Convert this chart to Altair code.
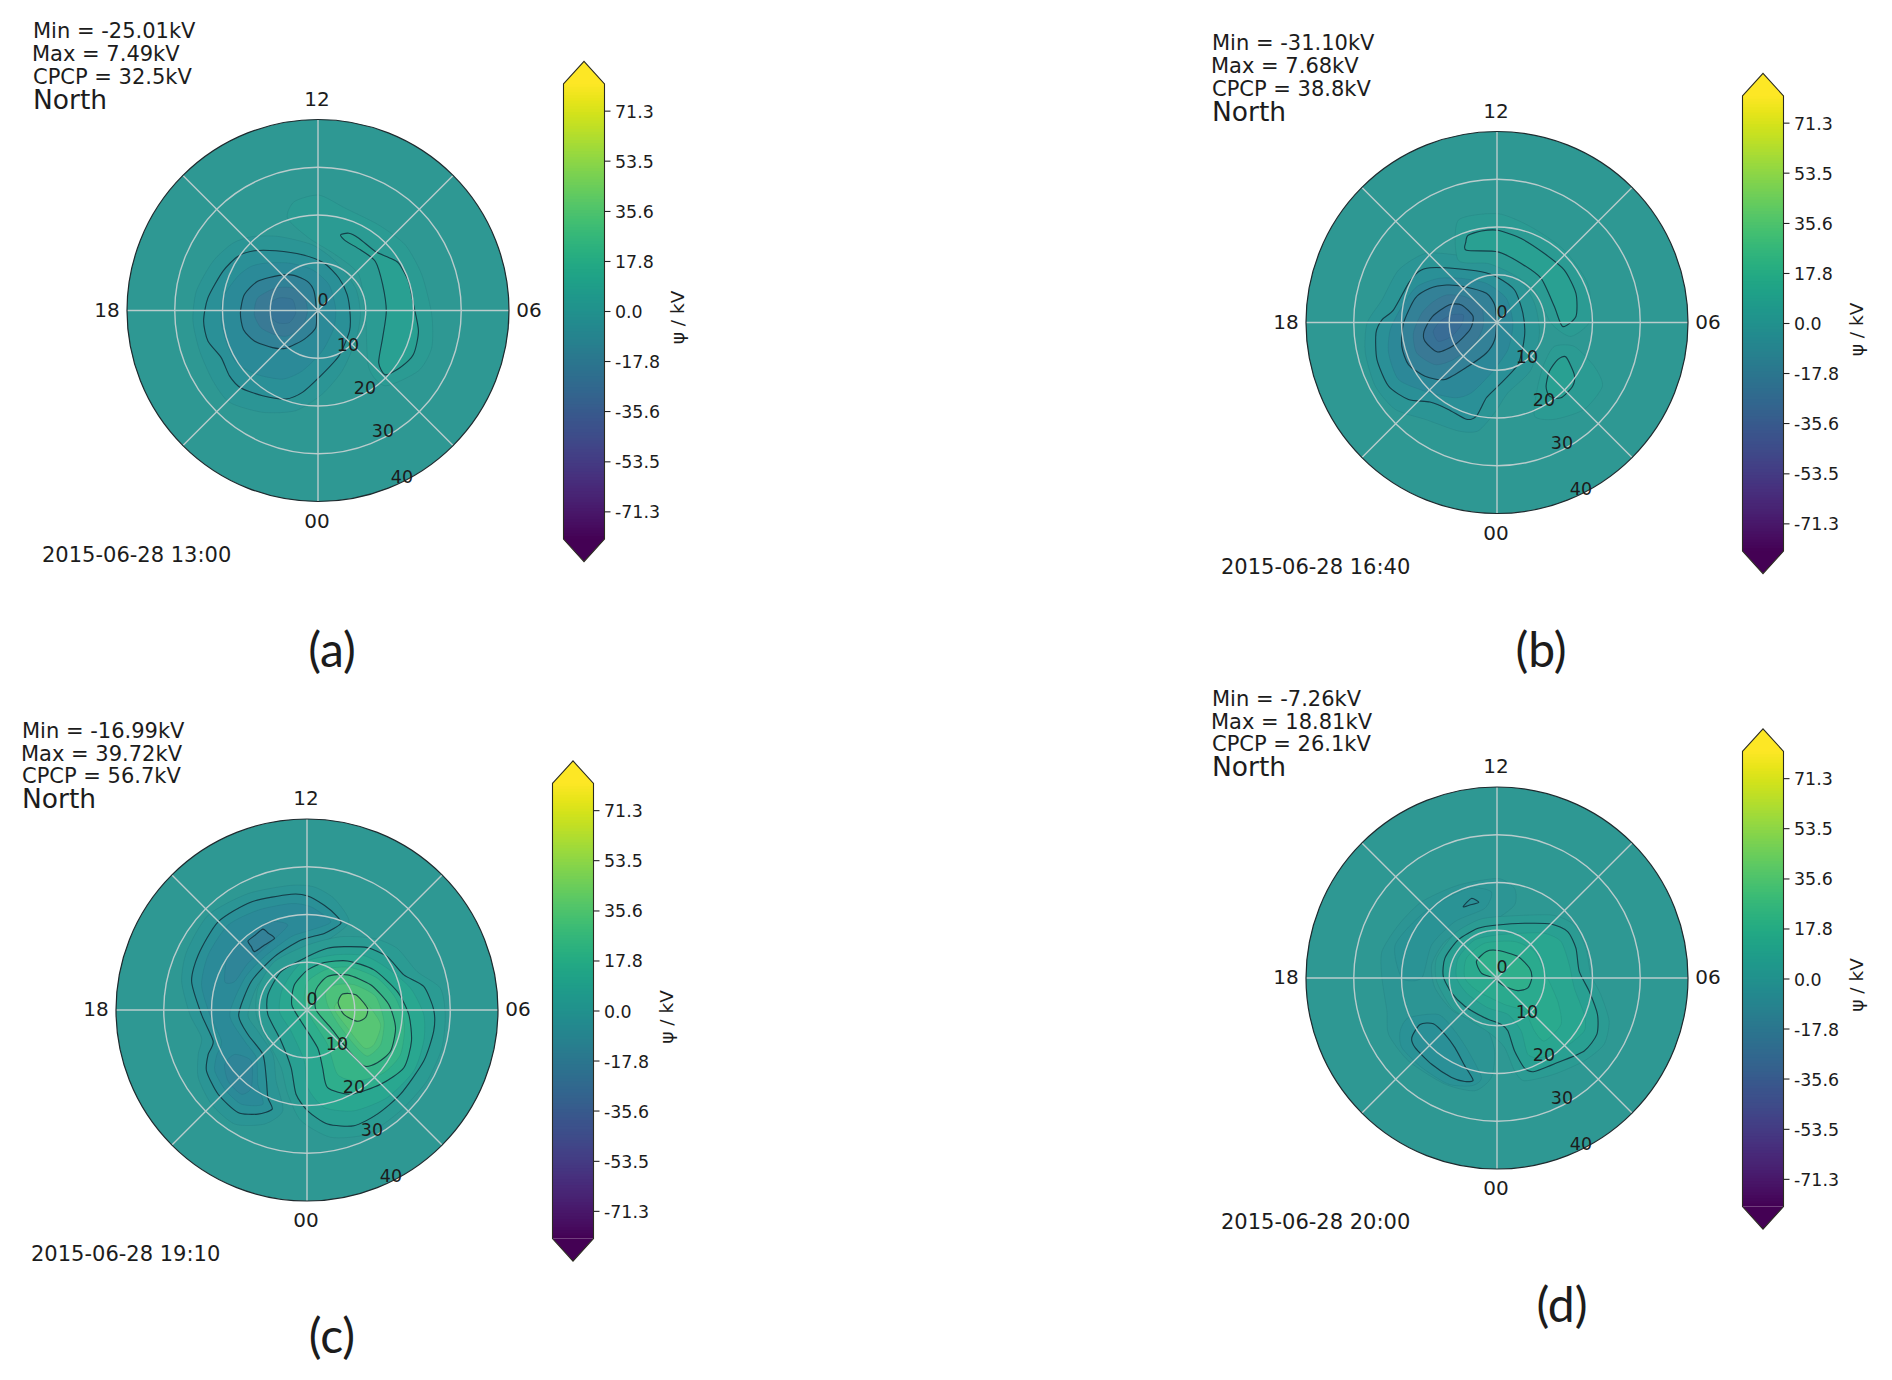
import altair as alt
import pandas as pd

# ---- values -----------------------------------------------------------------
PANELS = ["a", "b", "c", "d"]
MINS = ["-25.01", "-31.10", "-16.99", "-7.26"]
MAXS = ["7.49", "7.68", "39.72", "18.81"]
CPCP = ["32.5", "38.8", "56.7", "26.1"]
TIMES = ["2015-06-28 13:00", "2015-06-28 16:40", "2015-06-28 19:10", "2015-06-28 20:00"]
MLT_LABELS = ["12", "06", "00", "18"]
COLAT_TICKS = [0, 10, 20, 30, 40]
CBAR_TICKS = [71.3, 53.5, 35.6, 17.8, 0.0, -17.8, -35.6, -53.5, -71.3]
# The potential field is slightly paler than the colour bar
FIELD_COLOURS = ["#4f105e", "#523a83", "#475c92", "#397a95", "#2e9893", "#35b388", "#68cc6b", "#b2de3c", "#fde832"]

# Digitised contours: readings on a 14.4-units-per-degree grid, with the pole at POLE
POLE = {"a": (417, 388), "b": (417, 398), "c": (418, 386), "d": (417, 400)}

A_N2 = [(220,165),(300,165),(400,190),(470,240),(530,320),(545,400),(530,480),(490,570),(430,640),(350,690),(250,695),(150,665),(100,600),(60,510),(40,420),(50,330),(100,240),(160,185)]
A_N5 = [(225,208),(290,208),(370,220),(435,245),(480,290),(505,340),(514,400),(512,450),(480,525),(420,590),(370,635),(320,655),(250,645),(185,622),(150,585),(125,530),(85,480),(72,420),(85,350),(130,270),(175,225)]
A_N10 = [(260,245),(330,245),(400,265),(450,310),(470,380),(465,440),(430,510),(370,570),(310,595),(230,580),(170,545),(140,480),(125,420),(130,350),(175,285),(215,255)]
A_N15 = [(300,282),(345,282),(385,300),(405,330),(412,390),(410,440),(375,475),(320,502),(280,500),(225,480),(192,445),(183,395),(195,340),(235,300)]
A_N20 = [(290,320),(340,320),(375,345),(385,390),(370,435),(325,465),(285,460),(245,440),(225,400),(235,350)]
A_N24 = [(300,350),(340,355),(350,395),(330,425),(295,425),(270,400),(275,365)]
A_P2 = [(345,60),(420,40),(500,80),(600,130),(680,190),(730,280),(760,400),(760,500),(720,570),(620,615),(570,560),(560,400),(540,280),(470,220),(390,170),(325,110)]
A_P5 = [(485,160),(510,155),(540,170),(590,210),(630,228),(660,245),(690,300),(705,370),(720,450),(705,520),(665,560),(620,582),(600,545),(612,470),(623,390),(612,310),(590,240),(545,205),(500,178)]

B_N2 = [(200,190),(300,195),(400,215),(480,260),(530,340),(545,430),(520,540),(450,610),(410,670),(360,725),(300,725),(200,690),(110,660),(50,590),(20,490),(25,400),(70,330),(120,240)]
B_N5 = [(215,233),(290,235),(370,245),(415,260),(470,300),(495,370),(500,440),(480,525),(420,590),(385,625),(355,680),(325,690),(270,660),(215,638),(150,630),(90,590),(55,510),(52,430),(70,390),(105,360),(150,280),(180,245)]
B_N10 = [(240,265),(310,265),(385,280),(445,325),(465,400),(450,480),(400,550),(340,610),(290,625),(200,605),(120,570),(90,490),(95,420),(130,350),(175,290)]
B_N15 = [(265,285),(320,290),(385,310),(410,345),(415,400),(410,450),(385,490),(330,530),(260,570),(200,560),(150,525),(130,470),(135,400),(170,325),(215,295)]
B_N20 = [(265,315),(320,320),(370,350),(375,410),(350,460),(285,510),(230,525),(175,490),(165,430),(190,370),(225,335)]
B_N25 = [(272,345),(310,345),(345,380),(335,420),(290,465),(238,487),(200,455),(197,425),(222,380)]
B_N28 = [(280,375),(315,375),(310,405),(280,440),(240,455),(225,425),(245,395)]
B_P2T = [(300,90),(420,70),(520,110),(620,180),(690,280),(700,390),(640,440),(580,400),(530,300),(460,250),(390,220),(300,210)]
B_P2L = [(590,470),(650,470),(710,530),(735,590),(680,660),(590,690),(530,680),(540,590),(560,520)]
B_P5T = [(330,135),(370,122),(420,120),(490,145),(560,190),(620,240),(655,310),(655,380),(615,410),(590,350),(550,265),(490,220),(420,185),(325,180),(323,155)]
B_P5L = [(600,510),(625,502),(650,555),(645,590),(610,625),(575,620),(565,590),(575,545)]

C_N2 = [(370,10),(440,15),(500,50),(545,120),(480,175),(420,195),(340,240),(270,310),(240,400),(270,450),(315,520),(325,600),(345,690),(290,730),(200,730),(130,670),(90,590),(90,520),(100,470),(65,400),(40,300),(55,210),(120,100),(240,35)]
C_N5 = [(370,37),(420,42),(470,70),(505,100),(520,125),(470,155),(400,175),(320,225),(250,300),(212,400),(240,460),(285,520),(295,590),(300,650),(313,685),(270,700),(210,695),(150,640),(115,570),(120,520),(135,480),(100,400),(70,300),(90,220),(150,120),(250,60)]
C_N10 = [(370,65),(430,75),(490,120),(430,145),(370,165),(290,225),(230,290),(185,400),(230,480),(265,530),(270,610),(285,670),(220,670),(170,625),(140,570),(145,525),(160,480),(125,400),(100,310),(120,220),(180,130),(270,85)]
C_N13U = [(240,170),(300,120),(360,130),(300,190),(240,245),(200,300),(170,300),(180,220)]
C_N13L = [(200,520),(250,540),(250,620),(220,640),(180,600),(170,550)]
C_N15 = [(240,178),(262,160),(285,142),(302,155),(320,170),(290,190),(260,210),(250,195)]
C_P2 = [(520,165),(620,170),(690,200),(750,270),(820,320),(835,400),(825,500),(780,600),(700,690),(600,760),(490,770),(400,720),(360,640),(340,560),(300,480),(265,400),(270,320),(320,240),(420,190)]
C_P5 = [(530,195),(600,198),(660,225),(710,280),(770,315),(800,385),(800,450),(770,540),(700,640),(630,700),(560,735),(480,730),(420,690),(385,640),(370,560),(340,480),(300,400),(300,340),(340,270),(420,225),(480,200)]
C_P10 = [(500,220),(590,222),(660,260),(730,320),(770,400),(770,480),(740,570),(660,650),(560,690),(470,680),(420,620),(410,540),(370,450),(335,390),(345,320),(400,245)]
C_P15 = [(470,243),(540,238),(620,265),(690,330),(725,400),(733,480),(710,560),(640,610),(550,640),(480,620),(465,560),(450,500),(400,420),(372,370),(380,310),(420,265)]
C_P20 = [(480,262),(550,258),(630,290),(685,350),(712,430),(700,520),(650,575),(570,600),(510,580),(480,490),(430,410),(410,360),(420,300)]
C_P25 = [(480,285),(540,280),(610,310),(665,370),(685,440),(670,510),(630,545),(590,555),(545,510),(490,440),(445,385),(445,325)]
C_P30 = [(505,310),(560,310),(625,345),(650,420),(640,490),(600,525),(560,490),(510,425),(480,370),(475,330)]
C_P33 = [(540,340),(600,370),(640,430),(620,490),(590,500),(540,440),(500,380)]
C_P35 = [(525,338),(565,340),(600,380),(595,408),(570,420),(530,400),(512,365)]

D_N2 = [(300,120),(420,100),(470,130),(470,180),(410,225),(330,250),(260,290),(220,360),(230,430),(285,500),(380,545),(410,620),(400,700),(350,740),(260,720),(150,650),(90,570),(85,500),(70,400),(70,320),(120,240),(190,170)]
D_N3 = [(110,300),(200,200),(330,130),(400,140),(380,190),(290,230),(220,300),(190,400),(130,400)]
D_N4 = [(150,520),(240,510),(290,560),(330,620),(370,700),(340,725),(270,720),(190,670),(130,610),(125,560)]
D_N5L = [(185,540),(225,538),(260,570),(290,610),(320,665),(345,708),(320,712),(280,700),(220,660),(170,610),(160,580)]
D_N5U = [(315,185),(340,160),(362,172),(335,180)]
D_P2 = [(420,215),(580,210),(650,240),(685,310),(700,390),(730,450),(755,530),(740,600),(680,650),(590,690),(500,710),(470,680),(440,610),(400,570),(340,530),(280,490),(235,410),(235,340),(290,265),(360,225)]
D_P5 = [(420,240),(500,235),(580,237),(630,260),(655,310),(665,380),(695,440),(720,510),(718,570),(680,620),(600,655),(530,682),(500,672),(470,620),(450,560),(430,540),(380,520),(320,485),(280,445),(255,395),(260,340),(300,285),(360,250)]
D_P10 = [(420,270),(490,265),(560,265),(610,290),(635,360),(650,430),(680,510),(680,560),(620,610),(550,640),(510,630),(490,560),(450,510),(390,490),(330,450),(295,400),(300,340),(350,285)]
D_P13 = [(380,295),(470,290),(530,320),(560,380),(600,470),(610,540),(560,590),(530,560),(500,500),(440,480),(360,440),(320,400),(325,340)]
D_P15 = [(385,320),(420,317),(480,335),(515,370),(522,400),(510,430),(480,438),(440,425),(405,400),(370,385),(355,350)]

# (potential in kV, contour), outermost first
FILLS = {
    "a": [(-2.5,A_N2),(-6,A_N5),(-10,A_N10),(-15,A_N15),(-20,A_N20),(-24,A_N24),(2.5,A_P2),(6,A_P5)],
    "b": [(-2.5,B_N2),(-6,B_N5),(-11,B_N10),(-16,B_N15),(-21,B_N20),(-26,B_N25),(-30,B_N28),(2.5,B_P2T),(2.5,B_P2L),(6,B_P5T),(6,B_P5L)],
    "c": [(-2.5,C_N2),(-6,C_N5),(-10,C_N10),(-13,C_N13U),(-13,C_N13L),(-16,C_N15),
          (2.5,C_P2),(6,C_P5),(11,C_P10),(16,C_P15),(21,C_P20),(26,C_P25),(31,C_P30),(35,C_P33),(38,C_P35)],
    "d": [(-2,D_N2),(-3.5,D_N3),(-4,D_N4),(-6,D_N5L),(-6,D_N5U),(2.5,D_P2),(6,D_P5),(10,D_P10),(13,D_P13),(17,D_P15)],
}
LINES = {
    "a": [A_N5, A_N15, A_P5],
    "b": [B_N5, B_N15, B_N25, B_P5T, B_P5L],
    "c": [C_N5, C_N15, C_P5, C_P15, C_P25, C_P35],
    "d": [D_N5L, D_N5U, D_P5, D_P15],
}

# ---- layout -------------------------------------------------------------------
CENTER = {"a": (318, 310.5), "b": (1497, 322.5), "c": (307, 1010), "d": (1497, 978)}
LETTER_POS = {"a": (332, 653), "b": (1541, 653), "c": (332, 1339), "d": (1562, 1308)}
R = 191.0
PX_PER_DEG = R / 40
UNITS_PER_DEG = 14.4
KV_PX = 2.81
VMAX, SHOULDER = 89.0, 81.0
BAR_L, BAR_W = 245.5, 41.0

sx = alt.Scale(domain=[8, 1884], range=[0, 1876], nice=False, zero=False)
sy = alt.Scale(domain=[8, 1372], range=[0, 1364], nice=False, zero=False)
sc_bar = alt.Scale(scheme="viridis", domain=[-SHOULDER, SHOULDER], clamp=True)
FIELD_DOMAIN = [-SHOULDER + i * 2 * SHOULDER / 8 for i in range(9)]
sc_field = alt.Scale(domain=FIELD_DOMAIN, range=FIELD_COLOURS, clamp=True)
X = alt.X("x:Q", scale=sx, axis=None)
Y = alt.Y("y:Q", scale=sy, axis=None)


def contour_rows(p, pts, cid, v=0.0):
    cx, cy = CENTER[p]
    px, py = POLE[p]
    rows = []
    for k, (a, b) in enumerate(pts):
        east = (a - px) / UNITS_PER_DEG
        north = (py - b) / UNITS_PER_DEG
        rows.append({"id": cid, "k": k, "v": v,
                     "x": cx + east * PX_PER_DEG, "y": cy - north * PX_PER_DEG})
    return rows


fill_rows, line_rows, disc_rows, ring_rows, spoke_rows = [], [], [], [], []
bar_rows, bar_tip_rows, outline_rows, tick_rows = [], [], [], []
for p in PANELS:
    cx, cy = CENTER[p]
    disc_rows.append({"x": cx, "y": cy, "s": (2 * R) ** 2, "v": 0.0})
    for i, (v, pts) in enumerate(FILLS[p]):
        fill_rows += contour_rows(p, pts, f"{p}{i:02d}", v)
    for i, pts in enumerate(LINES[p]):
        line_rows += contour_rows(p, pts, f"{p}{i:02d}")
    for c in COLAT_TICKS[1:-1]:
        ring_rows.append({"x": cx, "y": cy, "s": (2 * c * PX_PER_DEG) ** 2})
    for ex, ny in [(0, 1), (0, -1), (1, 0), (-1, 0), (.7071, .7071), (.7071, -.7071), (-.7071, .7071), (-.7071, -.7071)]:
        spoke_rows.append({"x": cx, "y": cy, "x2": cx + ex * R, "y2": cy - ny * R})
    # colour bar
    left, right = cx + BAR_L, cx + BAR_L + BAR_W
    mid = (left + right) / 2
    y0 = cy + 1
    for lv in range(-81, 81):
        bar_rows.append({"x": left, "x2": right, "v": lv + 0.5,
                         "y": y0 - (lv + 1.3) * KV_PX, "y2": y0 - lv * KV_PX})
    top = y0 - SHOULDER * KV_PX
    bot = y0 + SHOULDER * KV_PX
    tip_t = y0 - VMAX * KV_PX
    tip_b = y0 + VMAX * KV_PX
    for k, (xx, yy) in enumerate([(left, top), (mid, tip_t), (right, top)]):
        bar_tip_rows.append({"id": p + "t", "k": k, "x": xx, "y": yy, "v": SHOULDER})
    for k, (xx, yy) in enumerate([(left, bot), (mid, tip_b), (right, bot)]):
        bar_tip_rows.append({"id": p + "b", "k": k, "x": xx, "y": yy, "v": -SHOULDER})
    for k, (xx, yy) in enumerate([(left, top), (mid, tip_t), (right, top), (right, bot), (mid, tip_b), (left, bot)]):
        outline_rows.append({"id": p, "k": k, "x": xx, "y": yy})
    for t in CBAR_TICKS:
        tick_rows.append({"x": right, "x2": right + 6, "y": y0 - t * KV_PX})


def texts(rows, size, font="DejaVu Sans", align="left", angle=None, color="#1c1c1c"):
    kw = dict(align=align, baseline="middle", fontSize=size, font=font, color=color)
    if angle is not None:
        kw["angle"] = angle
    return alt.Chart(pd.DataFrame(rows)).mark_text(**kw).encode(x=X, y=Y, text="t:N")


meta, north, stamps, mlt, colat, cb_labels, cb_titles, letters = [], [], [], [], [], [], [], []
R_LABEL_OFF = [(5, -10), (30, 35), (47, 78), (65, 121), (84, 167)]
for i, p in enumerate(PANELS):
    cx, cy = CENTER[p]
    meta += [{"x": cx - 285, "y": cy - 278.5, "t": f"Min = {MINS[i]}kV"},
             {"x": cx - 286, "y": cy - 255.5, "t": f"Max = {MAXS[i]}kV"},
             {"x": cx - 285, "y": cy - 233, "t": f"CPCP = {CPCP[i]}kV"}]
    north.append({"x": cx - 285, "y": cy - 210, "t": "North"})
    stamps.append({"x": cx - 276, "y": cy + 245, "t": TIMES[i]})
    for lab, (ox, oy) in zip(MLT_LABELS, [(0, -211), (211, 0), (0, 211), (-211, 0)]):
        mlt.append({"x": cx + ox - (1 if lab in ("12", "00") else 0), "y": cy + oy, "t": lab})
    for c, (ox, oy) in zip(COLAT_TICKS, R_LABEL_OFF):
        colat.append({"x": cx + ox, "y": cy + oy, "t": str(c)})
    for t in CBAR_TICKS:
        cb_labels.append({"x": cx + BAR_L + BAR_W + 10.5, "y": cy + 2.5 - t * KV_PX, "t": f"{t:.1f}"})
    cb_titles.append({"x": cx + 360, "y": cy + 7, "t": "ψ / kV"})
    letters.append({"x": LETTER_POS[p][0], "y": LETTER_POS[p][1], "t": f"({p})"})

disc = alt.Chart(pd.DataFrame(disc_rows)).mark_point(filled=True, opacity=1, shape="circle").encode(
    x=X, y=Y, size=alt.Size("s:Q", scale=None), color=alt.Color("v:Q", scale=sc_field, legend=None))
fills = alt.Chart(pd.DataFrame(fill_rows)).mark_line(
    filled=True, interpolate="cardinal-closed", tension=0.3,
    stroke="#0b2b3a", strokeOpacity=0.1, strokeWidth=0.8).encode(
    x=X, y=Y, detail="id:N", order="k:Q", color=alt.Color("v:Q", scale=sc_field, legend=None))
dark = alt.Chart(pd.DataFrame(line_rows)).mark_line(
    interpolate="cardinal-closed", tension=0.3, color="#12303c", strokeWidth=1.1, opacity=0.85).encode(
    x=X, y=Y, detail="id:N", order="k:Q")
GRID = "#b9cccc"
spokes = alt.Chart(pd.DataFrame(spoke_rows)).mark_rule(color=GRID, strokeWidth=1.4).encode(
    x=X, y=Y, x2="x2:Q", y2="y2:Q")
rings = alt.Chart(pd.DataFrame(ring_rows)).mark_point(
    shape="circle", filled=False, color=GRID, strokeWidth=1.4, opacity=1).encode(
    x=X, y=Y, size=alt.Size("s:Q", scale=None))
edge = alt.Chart(pd.DataFrame(disc_rows)).mark_point(
    shape="circle", filled=False, color="#1f2a2e", strokeWidth=1.2, opacity=1).encode(
    x=X, y=Y, size=alt.Size("s:Q", scale=None))
bar = alt.Chart(pd.DataFrame(bar_rows)).mark_rect().encode(
    x=X, x2="x2:Q", y=Y, y2="y2:Q", color=alt.Color("v:Q", scale=sc_bar, legend=None))
tips = alt.Chart(pd.DataFrame(bar_tip_rows)).mark_line(
    filled=True, interpolate="linear-closed").encode(
    x=X, y=Y, detail="id:N", order="k:Q", color=alt.Color("v:Q", scale=sc_bar, legend=None))
outline = alt.Chart(pd.DataFrame(outline_rows)).mark_line(
    interpolate="linear-closed", color="#2b2b20", strokeWidth=1.1).encode(
    x=X, y=Y, detail="id:N", order="k:Q")
ticks = alt.Chart(pd.DataFrame(tick_rows)).mark_rule(color="#222222", strokeWidth=1.1).encode(
    x=X, x2="x2:Q", y=Y)

field = alt.layer(disc, fills).resolve_scale(color="shared")
colourbar = alt.layer(bar, tips).resolve_scale(color="shared")

chart = alt.layer(
    field, dark, spokes, rings, edge, colourbar, outline, ticks,
    texts(meta, 21), texts(north, 26.5), texts(stamps, 21),
    texts(mlt, 20, align="center"), texts(colat, 17.5, align="center"),
    texts(cb_labels, 17.4), texts(cb_titles, 18.5, align="center", angle=270),
    texts(letters, 48, font="Lato", align="center"),
).resolve_scale(color="independent").properties(
    width=1876, height=1364, padding=0, background="white",
    autosize=alt.AutoSizeParams(type="none"),
).configure_view(stroke=None, strokeWidth=0)

chart.save("out.html", embed_options={"renderer": "svg", "actions": False})
